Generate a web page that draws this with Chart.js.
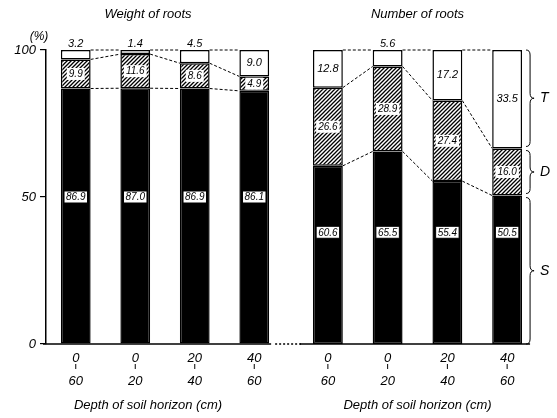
<!DOCTYPE html>
<html>
<head>
<meta charset="utf-8">
<script src="https://cdn.jsdelivr.net/npm/chart.js@4.4.1/dist/chart.umd.min.js"></script>
<style>
  body { margin: 0; background: #fff; }
  #wrap { position: relative; width: 557px; height: 418px; }
  canvas { position: absolute; left: 0; top: 0; }
</style>
</head>
<body>
<div id="wrap">
  <canvas id="weight" width="557" height="418"></canvas>
  <canvas id="number" width="557" height="418"></canvas>
</div>
<script>
// depth of soil horizon, top line / bottom line
const depthLabels = [["0", "", "60"], ["0", "", "20"], ["20", "", "40"], ["40", "", "60"]];

// weight of roots (%)
const weightS = [86.9, 87.0, 86.9, 86.1];
const weightD = [9.9, 11.6, 8.6, 4.9];
const weightT = [3.2, 1.4, 4.5, 9.0];

// number of roots (%)
const numberS = [60.6, 65.5, 55.4, 50.5];
const numberD = [26.6, 28.9, 27.4, 16.0];
const numberT = [12.8, 5.6, 17.2, 33.5];

const yTicks = [0, 50, 100];
const braceLabels = ["T", "D", "S"];

const FONT = '"Liberation Sans", "DejaVu Sans", sans-serif';

function makeHatch() {
    var n = 4;
    var c = document.createElement('canvas');
    c.width = n; c.height = n;
    var g = c.getContext('2d');
    g.fillStyle = '#fff';
    g.fillRect(0, 0, n, n);
    g.strokeStyle = '#000';
    g.lineWidth = 1.3;
    g.beginPath();
    g.moveTo(0, n); g.lineTo(n, 0);
    g.moveTo(-1, 1); g.lineTo(1, -1);
    g.moveTo(n - 1, n + 1); g.lineTo(n + 1, n - 1);
    g.stroke();
    return g.createPattern(c, 'repeat');
}
const hatch = makeHatch();

function datasets(s, d, t) {
    var base = { borderColor: '#000', borderWidth: 1.5, borderSkipped: false,
                 categoryPercentage: 1, barPercentage: 0.5 };
    return [
        Object.assign({ label: 'S', data: s, backgroundColor: '#000' }, base),
        Object.assign({ label: 'D', data: d, backgroundColor: hatch }, base),
        Object.assign({ label: 'T', data: t, backgroundColor: '#fff' }, base)
    ];
}

function box(ctx, text, x, y, border) {
    ctx.font = 'italic 10px ' + FONT;
    var w = ctx.measureText(text).width + 4;
    ctx.fillStyle = '#fff';
    ctx.fillRect(x - w / 2, y - 6, w, 12);
    if (border) {
        ctx.strokeStyle = '#000';
        ctx.lineWidth = 1;
        ctx.strokeRect(x - w / 2, y - 6, w, 12);
    }
    ctx.fillStyle = '#000';
    ctx.fillText(text, x, y + 0.5);
}

function brace(ctx, x0, y1, y2, w) {
    var ym = (y1 + y2) / 2, r = Math.min(5, (y2 - y1) / 4), xm = x0 + w / 2;
    ctx.beginPath();
    ctx.moveTo(x0, y1);
    ctx.quadraticCurveTo(xm, y1, xm, y1 + r);
    ctx.lineTo(xm, ym - r);
    ctx.quadraticCurveTo(xm, ym, x0 + w, ym);
    ctx.quadraticCurveTo(xm, ym, xm, ym + r);
    ctx.lineTo(xm, y2 - r);
    ctx.quadraticCurveTo(xm, y2, x0, y2);
    ctx.stroke();
}

const overlay = {
    id: 'overlay',
    afterDatasetsDraw(chart, args, opts) {
        var ctx = chart.ctx, y = chart.scales.y, area = chart.chartArea;
        var ds = chart.data.datasets;
        var s = ds[0].data, d = ds[1].data, t = ds[2].data;
        var bars = chart.getDatasetMeta(0).data;
        var levels = s.map(function (v, i) { return [v, v + d[i], 100]; });
        ctx.save();

        // dashed connectors between neighbouring bars
        ctx.strokeStyle = '#000';
        ctx.lineWidth = 1;
        ctx.setLineDash([3, 2]);
        ctx.beginPath();
        for (var i = 0; i < bars.length - 1; i++) {
            for (var k = 0; k < 3; k++) {
                ctx.moveTo(bars[i].x + bars[i].width / 2, y.getPixelForValue(levels[i][k]));
                ctx.lineTo(bars[i + 1].x - bars[i + 1].width / 2, y.getPixelForValue(levels[i + 1][k]));
            }
        }
        ctx.stroke();

        // baseline
        var base = y.getPixelForValue(0);
        var last = bars[bars.length - 1];
        ctx.setLineDash([]);
        ctx.lineWidth = 1.5;
        ctx.beginPath();
        ctx.moveTo(area.left - 3 + opts.baseStart, base);
        ctx.lineTo(last.x + last.width / 2 + opts.baseEnd, base);
        ctx.stroke();
        if (opts.dotted) {
            ctx.setLineDash([2, 2]);
            ctx.beginPath();
            ctx.moveTo(last.x + last.width / 2 + 6, base);
            ctx.lineTo(area.right + 17, base);
            ctx.stroke();
            ctx.setLineDash([]);
        }

        // small strokes between depth numbers
        ctx.lineWidth = 1;
        bars.forEach(function (b) {
            ctx.beginPath();
            ctx.moveTo(b.x, base + 20);
            ctx.lineTo(b.x, base + 25);
            ctx.stroke();
        });

        // value labels
        ctx.textAlign = 'center';
        ctx.textBaseline = 'middle';
        bars.forEach(function (b, i) {
            box(ctx, s[i].toFixed(1), b.x, y.getPixelForValue(opts.sLabelAt), true);
            box(ctx, d[i].toFixed(1), b.x, y.getPixelForValue(s[i] + d[i] / 2), false);
            ctx.font = 'italic 11px ' + FONT;
            ctx.fillStyle = '#000';
            if (t[i] >= 6) {
                ctx.fillText(t[i].toFixed(1), b.x, y.getPixelForValue(100 - t[i] / 2));
            } else {
                ctx.fillText(t[i].toFixed(1), b.x, y.getPixelForValue(100) - 6);
            }
        });

        if (opts.percent) {
            ctx.font = 'italic 12px ' + FONT;
            ctx.fillText('(%)', area.left - 7, area.top - 13);
        }

        // braces for T, D, S
        if (opts.braces) {
            var lv = levels[levels.length - 1];
            var x0 = last.x + last.width / 2 + 4;
            var ends = [[100, lv[1]], [lv[1], lv[0]], [lv[0], 0]];
            ctx.lineWidth = 1;
            ctx.font = 'italic 14px ' + FONT;
            ctx.textAlign = 'left';
            ends.forEach(function (e, j) {
                var y1 = y.getPixelForValue(e[0]) + (j ? 2 : 0);
                var y2 = y.getPixelForValue(e[1]) - (j < 2 ? 2 : 0);
                brace(ctx, x0, y1, y2, 8);
                ctx.fillText(braceLabels[j], x0 + 14, (y1 + y2) / 2);
            });
        }
        ctx.restore();
    }
};

function makeChart(id, title, s, d, t, side) {
    var left = side === 'left';
    return new Chart(document.getElementById(id), {
        type: 'bar',
        data: { labels: depthLabels, datasets: datasets(s, d, t) },
        plugins: [overlay],
        options: {
            responsive: false,
            animation: false,
            devicePixelRatio: 1,
            layout: { padding: left ? { left: 12, right: 273 } : { left: 298, right: 20 } },
            scales: {
                x: {
                    stacked: true,
                    grid: { display: false, drawTicks: false },
                    border: { display: false },
                    ticks: { color: '#000', padding: 9,
                             font: { family: FONT, size: 13, style: 'italic', lineHeight: '11.5px' } },
                    afterFit: function (sc) { sc.height = 50; }
                },
                y: {
                    display: left,
                    stacked: true,
                    min: 0,
                    max: 100,
                    afterBuildTicks: function (sc) { sc.ticks = yTicks.map(function (v) { return { value: v }; }); },
                    afterFit: function (sc) { sc.width = left ? 34 : 0; },
                    grid: { drawOnChartArea: false, drawTicks: true, tickLength: 6, color: '#000', lineWidth: 1.2 },
                    border: { display: true, color: '#000', width: 1.5 },
                    ticks: { color: '#000', padding: 4,
                             font: { family: FONT, size: 13, style: 'italic' } }
                }
            },
            plugins: {
                legend: { display: false },
                tooltip: { enabled: false },
                title: {
                    display: true, text: title, color: '#000',
                    font: { family: FONT, size: 13, style: 'italic', weight: 'normal' },
                    padding: { top: 7, bottom: 27.4 }
                },
                subtitle: {
                    display: true, position: 'bottom', text: 'Depth of soil horizon (cm)', color: '#000',
                    font: { family: FONT, size: 13, style: 'italic' },
                    padding: { top: 4, bottom: 4.4 }
                },
                overlay: {
                    sLabelAt: left ? 50 : 38,
                    percent: left,
                    braces: !left,
                    dotted: left,
                    baseStart: left ? 0 : 5,
                    baseEnd: left ? 2 : 8
                }
            }
        }
    });
}

makeChart('weight', 'Weight of roots', weightS, weightD, weightT, 'left');
makeChart('number', 'Number of roots', numberS, numberD, numberT, 'right');
</script>
</body>
</html>
